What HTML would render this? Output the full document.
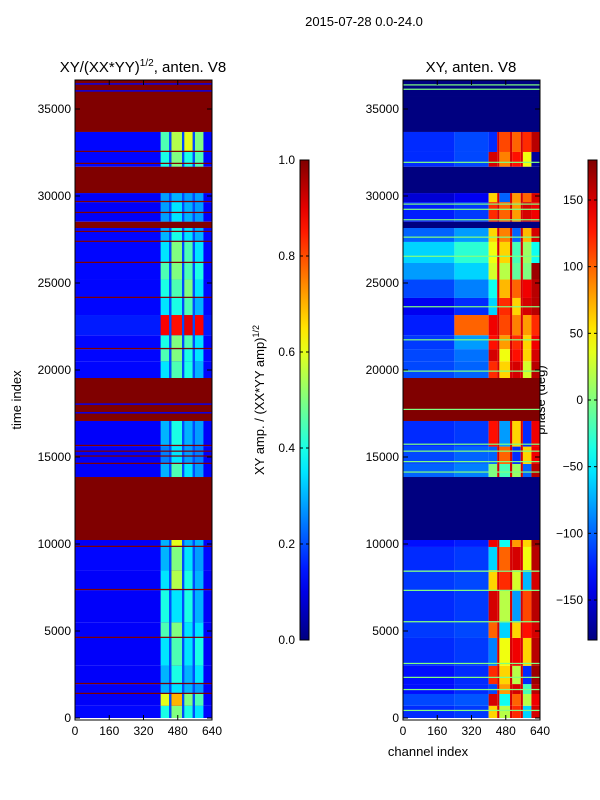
<!DOCTYPE html>
<html><head><meta charset="utf-8"><style>
body{margin:0;background:#fff}
svg{display:block;font-family:"Liberation Sans","DejaVu Sans",sans-serif}
</style></head><body>
<svg id="fig" width="600" height="800" viewBox="0 0 600 800">
<rect width="600" height="800" fill="#fff"/>
<text x="364" y="26" font-size="13" text-anchor="middle">2015-07-28 0.0-24.0</text>
<text x="143" y="72" font-size="15" text-anchor="middle">XY/(XX*YY)<tspan font-size="10" dy="-6">1/2</tspan><tspan dy="6">, anten. V8</tspan></text>
<text x="471" y="72" font-size="15" text-anchor="middle">XY, anten. V8</text>
<text x="0" y="0" font-size="13" text-anchor="middle" transform="translate(21,400) rotate(-90)">time index</text>
<text x="428" y="756" font-size="13" text-anchor="middle">channel index</text>
<text x="0" y="0" font-size="13" text-anchor="middle" transform="translate(264,400) rotate(-90)">XY amp. / (XX*YY amp)<tspan font-size="9" dy="-5">1/2</tspan></text>
<text x="0" y="0" font-size="13" text-anchor="middle" transform="translate(545,400) rotate(-90)">phase (deg)</text>
<g id="left"></g>
<g id="right"></g>
<g id="cbars"></g>
<g id="axes"></g>
</svg>
<script>
const bandStart=[0,700,1380,1950,3000,4600,5500,7350,8500,9830,13850,14600,15600,19540,20500,21200,22000,23160,24140,25200,26150,27360,28520,29650,31680,32530];
const bandEnd=[700,1380,1950,3000,4600,5500,7350,8500,9830,10230,14600,15600,17070,20500,21200,22000,23160,24140,25200,26150,27360,28160,29650,30170,32530,33680];
const leftLow=[.13,.12,.12,.12,.12,.12,.12,.12,.13,.12,.12,.12,.12,.13,.13,.13,.15,.13,.13,.13,.13,.13,.12,.12,.13,.13];
const leftHigh=[[.4,.5,.4,.35],[.6,.7,.5,.45],[.3,.35,.3,.28],[.3,.4,.3,.35],[.35,.45,.35,.4],[.45,.5,.35,.35],[.4,.35,.4,.3],[.35,.55,.4,.3],[.3,.5,.35,.28],[.3,.6,.3,.3],[.3,.45,.35,.28],[.25,.35,.28,.25],[.3,.4,.3,.28],[.35,.45,.4,.3],[.45,.5,.4,.35],[.4,.5,.45,.35],[.88,.86,.9,.88],[.35,.4,.45,.3],[.4,.45,.5,.35],[.45,.5,.45,.4],[.35,.5,.45,.35],[.3,.4,.35,.3],[.28,.35,.3,.28],[.28,.3,.28,.28],[.4,.5,.4,.45],[.45,.55,.6,.5]];
const rightLow=[-120,-110,-130,-130,-120,-115,-120,-115,-120,-130,-100,-110,-120,-110,-110,-115,-125,-140,-110,-80,-60,-100,-125,-150,-120,-120];
const rightMid=[-115,-105,-120,-120,-115,-110,-115,-110,-115,-125,-90,-100,-115,-100,-95,-80,100,-120,-90,-60,-30,-80,-115,-140,-110,-110];
const rightHigh=[[60,20,120,-60,150],[150,-40,100,20,140],[-110,80,150,-20,160],[120,60,20,-120,170],[-90,40,140,60,160],[100,-60,60,130,150],[150,20,-80,110,160],[60,120,30,-70,150],[-60,100,150,40,160],[140,-40,80,60,170],[0,-20,10,-100,160],[-100,100,-120,60,140],[130,-80,60,-120,140],[120,60,150,30,160],[150,40,130,60,150],[130,80,120,60,140],[140,110,90,80,120],[-60,120,60,150,160],[-40,70,100,140,160],[30,20,-10,0,170],[40,60,-20,10,-40],[60,90,-100,70,150],[120,100,80,150,140],[60,-100,80,100,150],[150,90,130,40,-170],[-120,110,100,120,160]];
const flagStart=[10230,17070,28160,30170,33680,35690];
const flagEnd=[13850,19540,28520,31680,35690,36670];
const flagLeft=[1,1,1,1,1,1];
const flagRight=[-180,180,-180,-180,-180,-180];
const leftLines=[1380,1950,4600,7350,9830,14600,15020,15300,15630,21200,24140,26150,27360,27930,29020,29650,31840,32530];
const leftBlueLines=[17500,18000,36000,36400];
const rightLines=[400,1600,2300,3100,5500,7300,8400,14100,14700,15300,15700,17700,19900,21700,23600,26500,27600,28600,29200,29500,31900,36100,36350];
const xTicks=[0,160,320,480,640];
const yTicks=[0,5000,10000,15000,20000,25000,30000,35000];
const ampTicks=[0,0.2,0.4,0.6,0.8,1.0];
const phaseTicks=[-150,-100,-50,0,50,100,150];

const NS='http://www.w3.org/2000/svg';
const TMAX=36670, Y0=718, YT=80;
function ty(t){return Y0-t*87/5000;}
function xL(c){return 75+c/640*137;}
function xR(c){return 403+c/640*137;}
function jet(v){v=Math.max(0,Math.min(1,v));
 function f(x){return Math.max(0,Math.min(1,x));}
 const r=f(1.5-Math.abs(4*v-3)),g=f(1.5-Math.abs(4*v-2)),b=f(1.5-Math.abs(4*v-1));
 return 'rgb('+Math.round(r*255)+','+Math.round(g*255)+','+Math.round(b*255)+')';}
function ph(d){return (d+180)/360;}
function rect(g,x0,x1,t0,t1,col,name){
 const r=document.createElementNS(NS,'rect');
 const ya=ty(Math.min(t1,TMAX)),yb=ty(t0);
 r.setAttribute('x',x0);r.setAttribute('y',ya);
 r.setAttribute('width',Math.max(0,x1-x0));r.setAttribute('height',Math.max(0.6,yb-ya));
 r.setAttribute('fill',col);
 
 
 g.appendChild(r);}
const gL=document.getElementById('left'),gR=document.getElementById('right');
const hiCols=[[400,440],[450,500],[510,550],[560,600]];
const gaps=[[440,450],[500,510],[550,560]];
for(let i=0;i<bandStart.length;i++){
 const a=bandStart[i],b=bandEnd[i];
 rect(gL,xL(0),xL(640),a,b,jet(leftLow[i]),'left-band-low');
 for(let k=0;k<4;k++) rect(gL,xL(hiCols[k][0]),xL(hiCols[k][1]),a,b,jet(leftHigh[i][k]),'left-band-cell');
 for(const gp of gaps) rect(gL,xL(gp[0]),xL(gp[1]),a,b,jet(0.2),'left-band-gap');
 rect(gR,xR(0),xR(240),a,b,jet(ph(rightLow[i])),'right-band-low');
 rect(gR,xR(240),xR(400),a,b,jet(ph(rightMid[i])),'right-band-mid');
 for(let k=0;k<4;k++) rect(gR,xR(hiCols[k][0]),xR(hiCols[k][1]),a,b,jet(ph(rightHigh[i][k])),'right-band-cell');
 rect(gR,xR(600),xR(640),a,b,jet(ph(rightHigh[i][4])),'right-band-edge');
 for(const gp of gaps) rect(gR,xR(gp[0]),xR(gp[1]),a,b,jet(ph(150)),'right-band-gap');
}
for(let i=0;i<flagStart.length;i++){
 rect(gL,xL(0),xL(640),flagStart[i],flagEnd[i],jet(flagLeft[i]),'left-flagged');
 rect(gR,xR(0),xR(640),flagStart[i],flagEnd[i],jet(ph(flagRight[i])),'right-flagged');
}
for(const t of leftLines) rect(gL,xL(0),xL(640),t,t+70,jet(1),'left-flag-line');
for(const t of leftBlueLines) rect(gL,xL(0),xL(640),t,t+80,jet(0.12),'left-unflagged-line');
for(const t of rightLines) rect(gR,xR(0),xR(640),t,t+70,jet(0.5),'right-zero-phase-line');

const gA=document.getElementById('axes');
function line(g,x1,y1,x2,y2,name){const l=document.createElementNS(NS,'line');
 l.setAttribute('x1',x1);l.setAttribute('y1',y1);l.setAttribute('x2',x2);l.setAttribute('y2',y2);
 l.setAttribute('stroke','#000');l.setAttribute('stroke-width','1');
 
 
 g.appendChild(l);}
function text(g,x,y,s,anchor,name){const t=document.createElementNS(NS,'text');
 t.setAttribute('x',x);t.setAttribute('y',y);t.setAttribute('font-size','12');t.setAttribute('text-anchor',anchor);
 t.textContent=s;
 
 
 g.appendChild(t);}
for(const sc of [xL,xR]){
 const x0=sc(0),x1=sc(640);
 const fr=document.createElementNS(NS,'rect');
 fr.setAttribute('x',x0);fr.setAttribute('y',YT);fr.setAttribute('width',x1-x0);fr.setAttribute('height',Y0+2-YT);
 fr.setAttribute('fill','none');fr.setAttribute('stroke','#000');
 
 
 gA.appendChild(fr);
 for(const c of xTicks){const x=sc(c);line(gA,x,Y0+2,x,Y0-3,'x-tick');line(gA,x,YT,x,YT+5,'x-tick-top');
  text(gA,x,Y0+17,String(c),'middle','x-tick-label');}
 for(const t of yTicks){const y=ty(t);line(gA,x0,y,x0+5,y,'y-tick');line(gA,x1,y,x1-5,y,'y-tick-right');
  text(gA,x0-4,y+4,String(t),'end','y-tick-label');}
}
const gC=document.getElementById('cbars');
const defs=document.createElementNS(NS,'defs');
const lg=document.createElementNS(NS,'linearGradient');
lg.setAttribute('id','jetg');lg.setAttribute('x1','0');lg.setAttribute('y1','1');lg.setAttribute('x2','0');lg.setAttribute('y2','0');
for(let i=0;i<=20;i++){const s=document.createElementNS(NS,'stop');s.setAttribute('offset',i/20);s.setAttribute('stop-color',jet(i/20));lg.appendChild(s);}
defs.appendChild(lg);gC.appendChild(defs);
function cbar(x,ticks,fn,fmt,name){
 const r=document.createElementNS(NS,'rect');
 r.setAttribute('x',x);r.setAttribute('y',160);r.setAttribute('width',9);r.setAttribute('height',480);
 r.setAttribute('fill','url(#jetg)');r.setAttribute('stroke','#000');
 
 
 gC.appendChild(r);
 for(const v of ticks){const y=640-fn(v)*480;line(gC,x,y,x+3,y,'colorbar-tick');line(gC,x+9,y,x+6,y,'colorbar-tick');
  text(gC,x-5,y+4,fmt(v),'end','colorbar-tick-label');}
}
cbar(300,ampTicks,v=>v,v=>v.toFixed(1),'amplitude-colorbar');
cbar(588,phaseTicks,ph,v=>(v<0?'\u2212'+(-v):String(v)),'phase-colorbar');
</script>
</body></html>
